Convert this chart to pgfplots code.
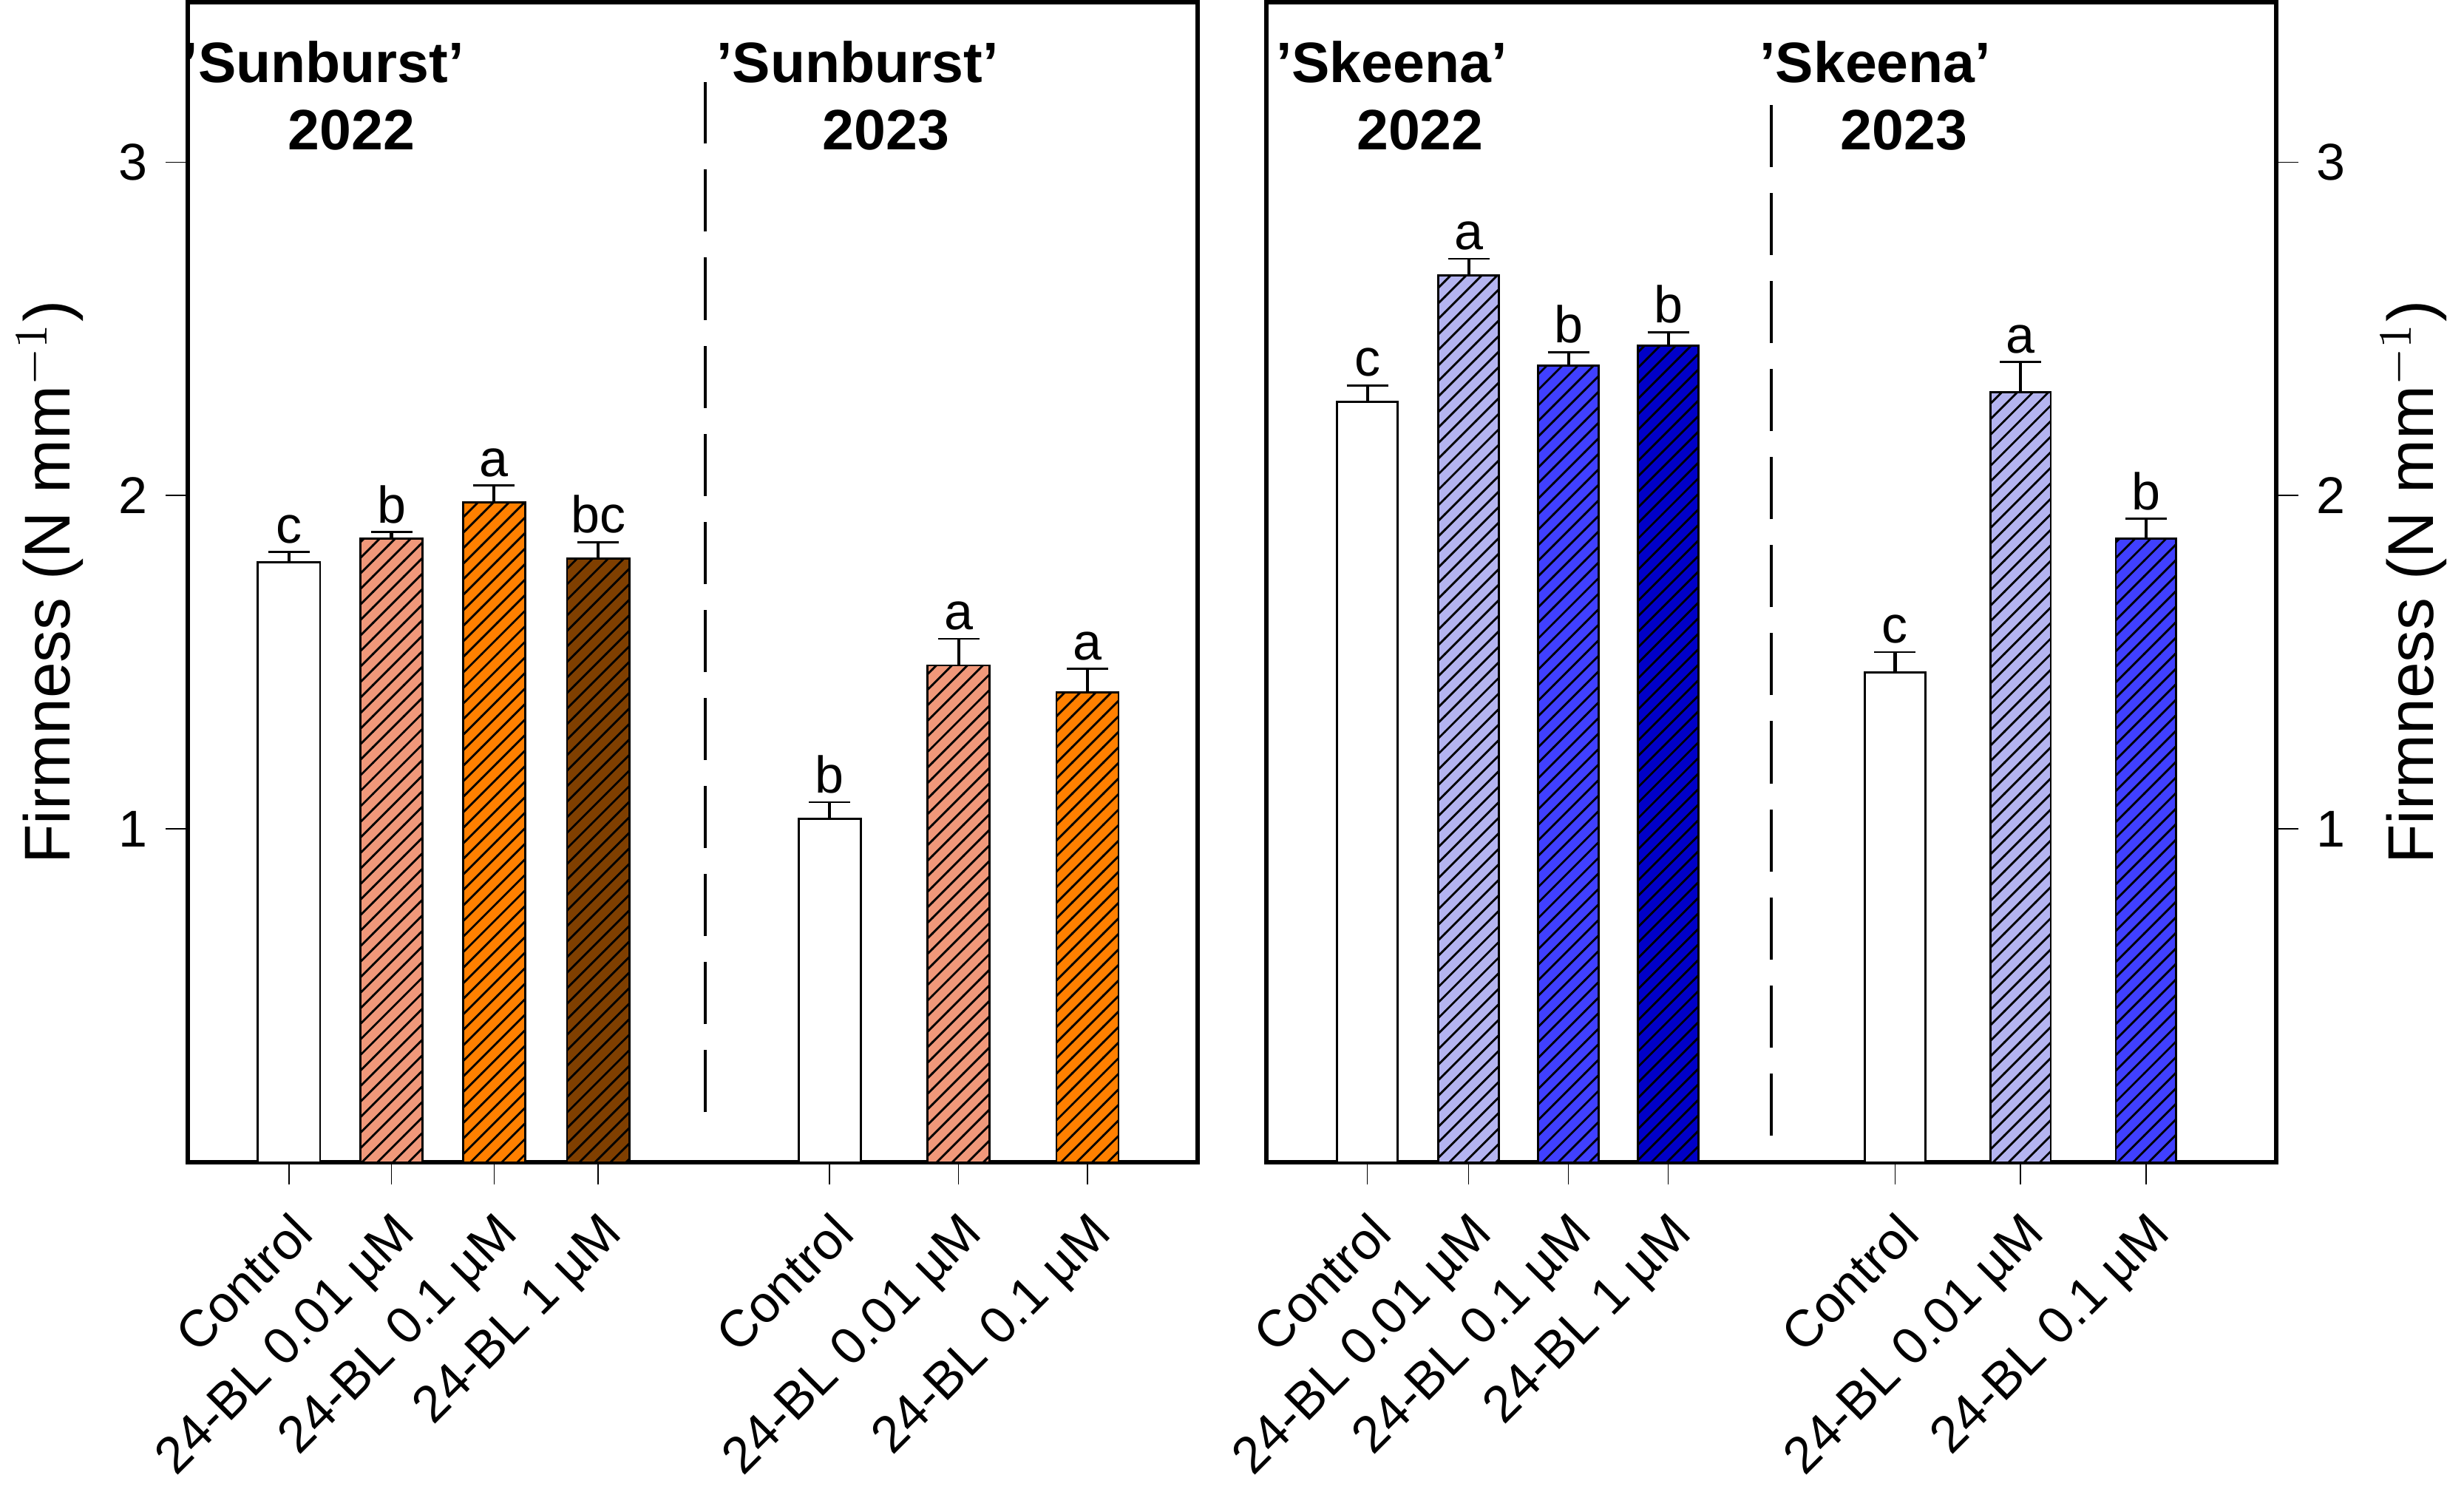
\documentclass[border=0pt]{standalone}
\usepackage{pgfplots}
\pgfplotsset{compat=1.18}
\usepackage{fontspec}
\setmainfont{Liberation Sans}
\usetikzlibrary{patterns}
\definecolor{peach}{HTML}{F0987A}
\definecolor{orng}{HTML}{FF8000}
\definecolor{brwn}{HTML}{7F3F00}
\definecolor{lav}{HTML}{B4B4F0}
\definecolor{blu}{HTML}{4040FF}
\definecolor{dblu}{HTML}{0000C8}
\tikzset{hatch/.style={postaction={pattern=north east lines}}, nohatch/.style={}}
\newcommand{\mybar}[6]{%
 \addplot[ybar, bar width=40, bar shift=0, draw=black, fill=#4,
   #5,
   error bars/.cd, y dir=plus, y explicit, error bar style={black, line width=0.6pt}, error mark options={rotate=90, mark size=4pt, black}]
   coordinates {(#1,#2) +- (0,#3)};
 \node[anchor=south, font=\fontsize{10}{10}\selectfont, inner sep=1.5pt] at (axis cs:#1,#2+#3) {#6};
}
\pgfplotsset{myax/.style={scale only axis, width=195pt, height=224pt, ymin=0, ymax=3.48,
  ytick={1,2,3}, tick align=outside, ytick style={black}, xtick style={black},
  x tick label style={rotate=45, anchor=north east, font=\fontsize{10}{12}\selectfont},
  y tick label style={font=\fontsize{10}{12}\selectfont},
  /pgf/number format/assume math mode=true,
  ylabel style={font=\fontsize{12.5}{14}\selectfont},
  axis line style={line width=0.8pt},
  clip=false}}
\begin{document}
\begin{tikzpicture}
\begin{axis}[myax, xmin=103, xmax=753, ytick pos=left, xtick pos=bottom,
  xtick={168,234,300,367,516,599,682},
  xticklabels={Control,24-BL 0.01 µM,24-BL 0.1 µM,24-BL 1 µM,Control,24-BL 0.01 µM,24-BL 0.1 µM},
  ylabel={Firmness (N mm$^{-1}$)}]
\mybar{168}{1.80}{0.03}{white}{nohatch}{c}
\mybar{234}{1.87}{0.02}{peach}{hatch}{b}
\mybar{300}{1.98}{0.05}{orng}{hatch}{a}
\mybar{367}{1.81}{0.05}{brwn}{hatch}{bc}
\mybar{516}{1.03}{0.05}{white}{nohatch}{b}
\mybar{599}{1.49}{0.08}{peach}{hatch}{a}
\mybar{682}{1.41}{0.07}{orng}{hatch}{a}
\draw[line width=0.6pt, dash pattern=on 12pt off 5pt] (axis cs:436,0.15) -- (axis cs:436,3.24);
\node[font=\bfseries\fontsize{11}{13}\selectfont, align=center] at (axis cs:190,3.2) {'Sunburst'\\\quad 2022};
\node[font=\bfseries\fontsize{11}{13}\selectfont, align=center] at (axis cs:534,3.2) {'Sunburst'\\\quad 2023};
\end{axis}
\begin{axis}[myax, xshift=208.2pt, xmin=797, xmax=1465, ytick pos=right, yticklabel pos=right, xtick pos=bottom,
  xtick={864,931,997,1063,1213,1296,1379},
  xticklabels={Control,24-BL 0.01 µM,24-BL 0.1 µM,24-BL 1 µM,Control,24-BL 0.01 µM,24-BL 0.1 µM},
  ylabel={Firmness (N mm$^{-1}$)}]
\mybar{864}{2.28}{0.05}{white}{nohatch}{c}
\mybar{931}{2.66}{0.05}{lav}{hatch}{a}
\mybar{997}{2.39}{0.04}{blu}{hatch}{b}
\mybar{1063}{2.45}{0.04}{dblu}{hatch}{b}
\mybar{1213}{1.47}{0.06}{white}{nohatch}{c}
\mybar{1296}{2.31}{0.09}{lav}{hatch}{a}
\mybar{1379}{1.87}{0.06}{blu}{hatch}{b}
\draw[line width=0.6pt, dash pattern=on 12pt off 5pt] (axis cs:1131,0.08) -- (axis cs:1131,3.24);
\node[font=\bfseries\fontsize{11}{13}\selectfont, align=center] at (axis cs:880,3.2) {'Skeena'\\\quad 2022};
\node[font=\bfseries\fontsize{11}{13}\selectfont, align=center] at (axis cs:1200,3.2) {'Skeena'\\\quad 2023};
\end{axis}
\end{tikzpicture}
\end{document}
